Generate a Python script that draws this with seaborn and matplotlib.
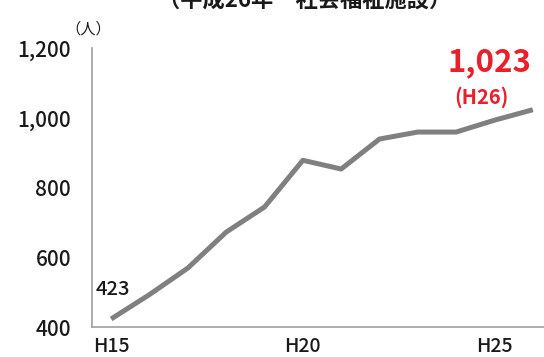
import matplotlib
matplotlib.use("Agg")
import matplotlib.pyplot as plt
import numpy as np
import pandas as pd
import seaborn as sns

# data (persons, H15..H26)
years = ["H15", "H16", "H17", "H18", "H19", "H20",
         "H21", "H22", "H23", "H24", "H25", "H26"]
counts = [423, 493, 569, 672, 744, 878, 853, 939, 959, 959, 993, 1023]
y_ticks = [400, 600, 800, 1000, 1200]
shown_labels = ["H15", "H20", "H25"]

df = pd.DataFrame({"pos": np.arange(len(years)), "year": years, "count": counts})

sns.set_style("white")
plt.rcParams["font.family"] = ["Noto Sans CJK JP", "DejaVu Sans"]

fig = plt.figure(figsize=(5.44, 3.57), dpi=100)
ax = fig.add_axes([92 / 544, 30 / 357, 460 / 544, 279 / 357])

sns.lineplot(data=df, x="pos", y="count", ax=ax, color="#808080",
             linewidth=3.6, solid_capstyle="butt")

ax.set_xlim(-0.5, len(years) - 0.5)
ax.set_ylim(400, 1200)
ax.set_xlabel("")
ax.set_ylabel("")

# y axis
ax.set_yticks(y_ticks)
ax.set_yticklabels([f"{v:,}" for v in y_ticks], fontsize=15, color="#1a1a1a",
                   fontweight="medium")
ax.tick_params(axis="y", direction="out", length=3, width=1, color="#999999", pad=12)

# x axis: labels centred on categories, tick marks between categories
label_pos = [years.index(l) for l in shown_labels]
ax.set_xticks(label_pos)
ax.set_xticklabels(shown_labels, fontsize=14, color="#1a1a1a", fontweight="medium")
ax.tick_params(axis="x", which="major", length=0, pad=7)
ax.set_xticks([p - 0.5 for p in label_pos], minor=True)
ax.tick_params(axis="x", which="minor", direction="out", length=3, width=1, color="#999999")

for side in ["top", "right"]:
    ax.spines[side].set_visible(False)
for side in ["left", "bottom"]:
    ax.spines[side].set_color("#a0a0a0")
    ax.spines[side].set_linewidth(1.2)

# annotations
ax.annotate(f"{counts[0]}", xy=(0, counts[0]), xytext=(1, 21),
            textcoords="offset points", ha="center", va="center",
            fontsize=14.5, color="#1a1a1a", fontweight="medium")
ax.annotate(f"{counts[-1]:,}", xy=(len(years) - 1, counts[-1]), xytext=(-31, 34),
            textcoords="offset points", ha="center", va="center",
            fontsize=22.5, fontweight="bold", color="#e8202a")
ax.annotate(f"({years[-1]})", xy=(len(years) - 1, counts[-1]), xytext=(-37, 9),
            textcoords="offset points", ha="center", va="center",
            fontsize=14.5, fontweight="bold", color="#e8202a")

fig.text(88 / 544, 1 - 29 / 357, "（人）", ha="center", va="center",
         fontsize=11, color="#1a1a1a")
fig.text(305 / 544, 1.0, "（平成26年　社会福祉施設）", ha="center", va="center",
         fontsize=16, fontweight="bold", color="#1a1a1a")

fig.savefig("out.png", dpi=100)
